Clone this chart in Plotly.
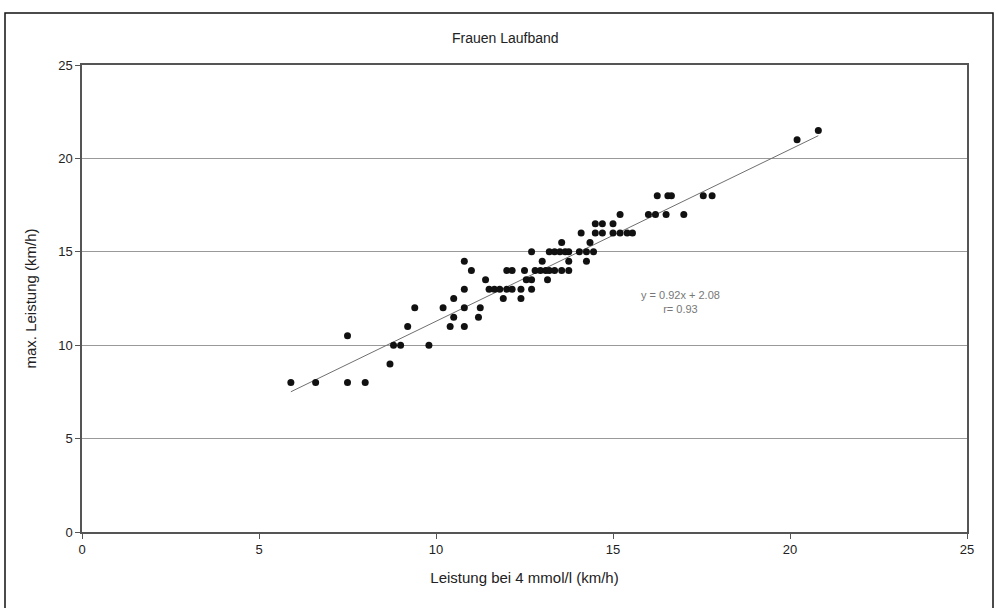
import plotly.graph_objects as go

# Data
leistung_4mmol = [5.9, 6.6, 7.5, 7.5, 8.0, 8.7, 8.8, 9.0, 9.2, 9.4, 9.8, 10.2, 10.4, 10.5, 10.5,
                  10.8, 10.8, 10.8, 10.8, 11.0, 11.25, 11.2, 11.4, 11.5, 11.65, 11.8, 12.0, 12.15,
                  12.4, 11.9, 12.4, 12.7, 12.0, 12.15, 12.5, 12.8, 12.95, 13.1, 13.2, 13.35, 13.55,
                  13.75, 12.55, 12.7, 13.15, 13.0, 12.7, 13.2, 13.35, 13.5, 13.65, 13.75, 13.55,
                  13.75, 14.1, 14.05, 14.25, 14.45, 14.25, 14.35, 14.5, 14.7, 15.0, 14.5, 14.7,
                  15.0, 15.2, 15.4, 15.55, 15.2, 16.0, 16.2, 16.5, 17.0, 16.25, 16.55, 16.65,
                  17.55, 17.8, 20.2, 20.8]
max_leistung = [8, 8, 10.5, 8, 8, 9, 10, 10, 11, 12, 10, 12, 11, 12.5, 11.5,
                13, 12, 11, 14.5, 14, 12, 11.5, 13.5, 13, 13, 13, 13, 13,
                13, 12.5, 12.5, 13, 14, 14, 14, 14, 14, 14, 14, 14, 14,
                14, 13.5, 13.5, 13.5, 14.5, 15, 15, 15, 15, 15, 15, 15.5,
                14.5, 16, 15, 15, 15, 14.5, 15.5, 16.5, 16.5, 16.5, 16, 16,
                16, 16, 16, 16, 17, 17, 17, 17, 17, 18, 18, 18,
                18, 18, 21, 21.5]

slope = 0.92
intercept = 2.08
r_value = 0.93

tick_vals = [0, 5, 10, 15, 20, 25]
tick_text = ["0", "5", "10", "15", "20", "25"]

title_text = "Frauen Laufband"
x_title = "Leistung bei 4 mmol/l (km/h)"
y_title = "max. Leistung (km/h)"

x_min, x_max = min(leistung_4mmol), max(leistung_4mmol)
trend_x = [x_min, x_max]
trend_y = [slope * v + intercept for v in trend_x]

fig = go.Figure()
fig.add_trace(go.Scatter(x=trend_x, y=trend_y, mode="lines",
                         line=dict(color="#6f6f6f", width=1), hoverinfo="skip",
                         showlegend=False))
fig.add_trace(go.Scatter(x=leistung_4mmol, y=max_leistung, mode="markers",
                         marker=dict(color="#111111", size=7, symbol="circle"),
                         showlegend=False))

font_family = "Liberation Sans, Arial, sans-serif"

fig.update_layout(
    width=996, height=608,
    margin=dict(l=82, r=29, t=65, b=76),
    paper_bgcolor="white", plot_bgcolor="white",
    font=dict(family=font_family, color="#222222", size=13),
    xaxis=dict(range=[0, 25], tickvals=tick_vals, ticktext=tick_text,
               showgrid=False, zeroline=False,
               showline=True, linecolor="#555555", linewidth=1.5, mirror=True,
               ticks="outside", ticklen=5, tickcolor="#555555",
               tickfont=dict(size=13, color="#222222"),
               title=dict(text=x_title, font=dict(size=15, color="#222222"), standoff=16)),
    yaxis=dict(range=[0, 25], tickvals=tick_vals, ticktext=tick_text,
               showgrid=True, gridcolor="#999999", gridwidth=1, zeroline=False,
               showline=True, linecolor="#555555", linewidth=1.5, mirror=True,
               ticks="outside", ticklen=5, tickcolor="#555555",
               tickfont=dict(size=13, color="#222222"),
               title=dict(text=y_title, font=dict(size=15, color="#222222"), standoff=18)),
    annotations=[
        dict(text=title_text, xref="paper", yref="paper",
             x=(505 - 82) / 885, y=(532 - 38) / 467, xanchor="center", yanchor="middle",
             showarrow=False, font=dict(size=14, color="#222222")),
        dict(text=f"y = {slope}x + {intercept}<br>r= {r_value}", xref="paper", yref="paper",
             x=(680 - 82) / 885, y=(532 - 302) / 467, xanchor="center", yanchor="middle",
             showarrow=False, align="center", font=dict(size=11, color="#777777")),
    ],
    shapes=[
        dict(type="rect", xref="paper", yref="paper",
             x0=(5 - 82) / 885, x1=(993 - 82) / 885,
             y0=(532 - 620) / 467, y1=(532 - 13) / 467,
             line=dict(color="#111111", width=1.5), fillcolor="rgba(0,0,0,0)", layer="below"),
    ],
)

fig.write_html("out.html")
